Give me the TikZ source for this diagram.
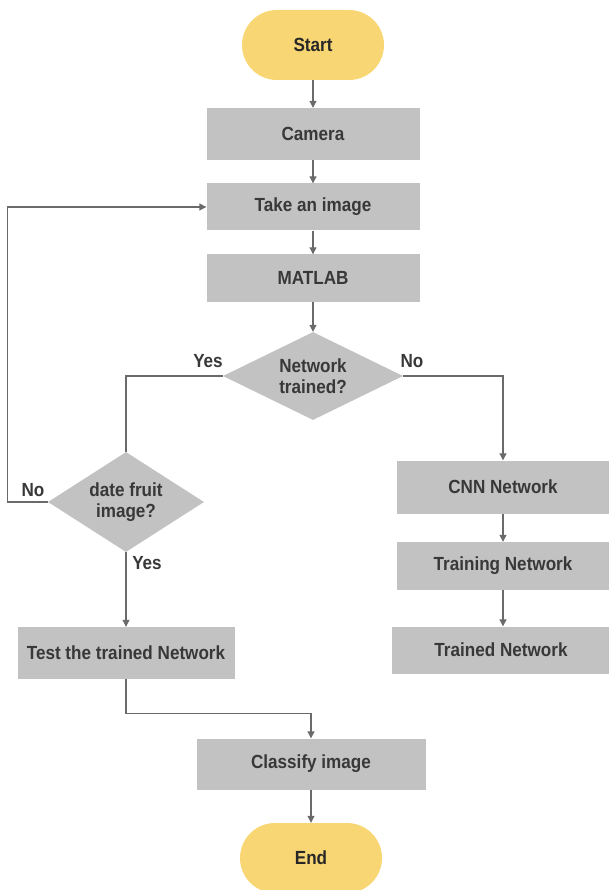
\documentclass[tikz,border=0pt]{standalone}
\usepackage{fontspec}
\setmainfont{Liberation Sans}[FakeStretch=0.9]
\usetikzlibrary{shapes.geometric,arrows.meta}
\definecolor{boxgray}{HTML}{C2C2C2}
\definecolor{termyellow}{HTML}{F8D673}
\definecolor{linegray}{HTML}{6A6A6A}
\definecolor{textgray}{HTML}{383838}
\tikzset{
	terminal/.style={rectangle, rounded corners=35pt, fill=termyellow, minimum width=142pt, minimum height=70pt, text=textgray!70!black, font=\bfseries\fontsize{19}{21}\selectfont},
	process/.style={rectangle, fill=boxgray, minimum width=213pt, minimum height=48pt, text=textgray, font=\bfseries\fontsize{19}{21}\selectfont},
	decision/.style={diamond, fill=boxgray, inner sep=0pt, align=center, text=textgray, font=\bfseries\fontsize{19}{21}\selectfont},
	answer/.style={text=textgray, font=\bfseries\fontsize{19}{21}\selectfont},
	flow/.style={draw=linegray, line width=1.1pt, -{Triangle[width=7pt,length=7pt]}},
	link/.style={draw=linegray, line width=1.1pt}
}
\begin{document}
\begin{tikzpicture}[x=1pt,y=-1pt]
	\useasboundingbox (0,0) rectangle (608,890);
	% main column
	\node[terminal] (start) at (313,45) {Start};
	\node[process, minimum height=52pt] (camera) at (313,134) {Camera};
	\node[process, minimum height=47pt] (take) at (313,207) {Take an image};
	\node[process, minimum height=47pt] (matlab) at (313,278) {MATLAB};
	\node[decision, aspect=2, minimum width=180pt, minimum height=88pt] (net) at (313,376) {Network\\trained?};
	% left branch
	\node[decision, aspect=1.56, minimum width=156pt, minimum height=100pt] (date) at (126,502) {date fruit\\image?};
	\node[process, minimum width=217pt, minimum height=52pt] (test) at (126,653) {Test the trained Network};
	% right branch
	\node[process, minimum width=212pt, minimum height=53pt] (cnn) at (503,487) {CNN Network};
	\node[process, minimum width=212pt, minimum height=48pt] (training) at (503,566) {Training Network};
	\node[process, minimum width=218pt, minimum height=47pt] (trained) at (501,650) {Trained Network};
	% bottom
	\node[process, minimum width=229pt, minimum height=51pt] (classify) at (311,764) {Classify image};
	\node[terminal] (end) at (311,858) {End};
	% labels
	\node[answer] (yesnet) at (208,361) {Yes};
	\node[answer] (nonet) at (412,361) {No};
	\node[answer] (nodate) at (33,490) {No};
	\node[answer] (yesdate) at (147,563) {Yes};
	% connectors
	\draw[flow] (start) -- (camera);
	\draw[flow] (camera) -- (take);
	\draw[flow] (take) -- (matlab);
	\draw[flow] (matlab) -- (net);
	\draw[link] (net.west) -| (date.north);
	\draw[flow] (net.east) -| (cnn.north);
	\draw[flow] (date.west) -- ++(-40,0) |- (take.west);
	\draw[flow] (date.south) -- (test.north);
	\draw[flow] (cnn) -- (training);
	\draw[flow] (training.south) -- (trained.north -| training.south);
	\draw[flow] (test.south) -- ++(0,34) -| (classify.north);
	\draw[flow] (classify) -- (end);
\end{tikzpicture}
\end{document}
